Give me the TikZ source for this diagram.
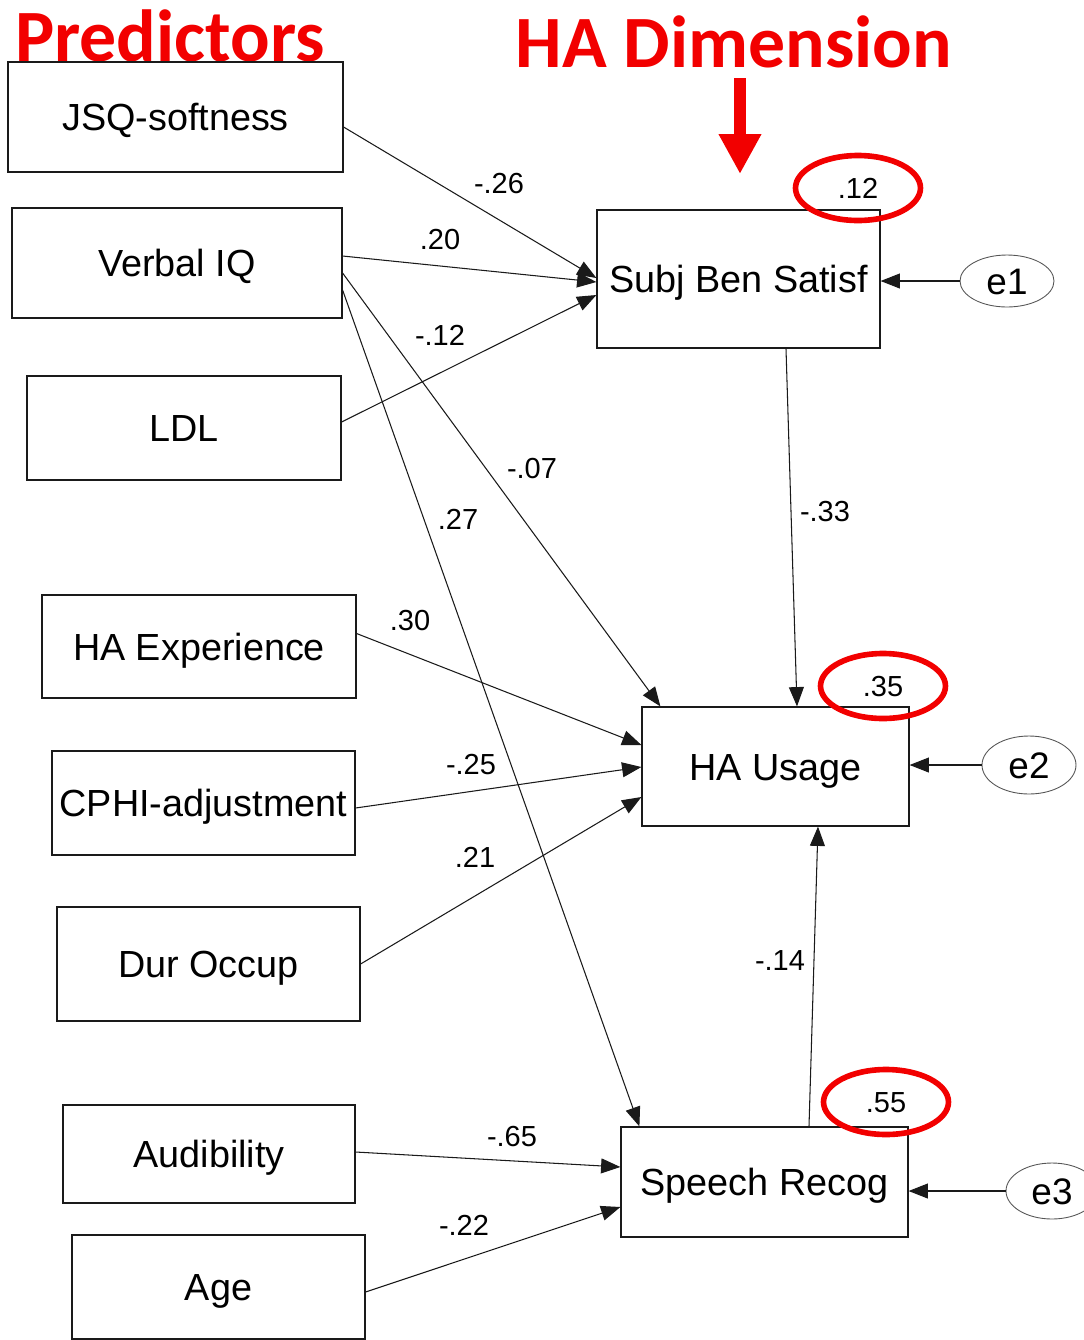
\documentclass[tikz,border=0pt]{standalone}
\usepackage{fontspec}
\setmainfont{Liberation Sans}
\newfontfamily\calfont{Carlito}
\usetikzlibrary{shapes.geometric,arrows.meta,calc}
\definecolor{harouge}{HTML}{F20000}
\definecolor{hanoir}{HTML}{1A1A1A}
\definecolor{hagris}{HTML}{555555}

\begin{document}
\begin{tikzpicture}[x=0.02cm, y=-0.02cm,
  boite/.style={draw=hanoir, line width=0.7pt, inner sep=0pt, text height=15.4pt, text depth=0pt, font=\fontsize{21.5}{24}\selectfont},
  coef/.style={inner sep=1pt, text height=11.8pt, text depth=0pt, font=\fontsize{16.5}{19}\selectfont},
  erreur/.style={draw=hagris, ellipse, line width=0.5pt, inner sep=0pt, text height=15pt, text depth=0pt, font=\fontsize{21}{24}\selectfont},
  rcarre/.style={draw=harouge, ellipse, line width=3.2pt, inner sep=0pt, minimum width=2.5cm, minimum height=1.3cm, text height=11.8pt, text depth=0pt, font=\fontsize{16.5}{19}\selectfont},
  fleche/.style={draw=hanoir, line width=0.6pt, -{Triangle[length=11pt,width=8.5pt]}},
  titre/.style={text=harouge, inner sep=0pt, font=\calfont\bfseries\fontsize{42}{46}\selectfont}]
  \useasboundingbox (0,0) rectangle (1084,1340);
  % titres en rouge
  \node[titre] (pred) at (170,36) {Predictors};
  \node[titre] (dim) at (734,42) {HA Dimension};
  \coordinate (fhaut) at (740,78);
  \coordinate (fbas) at (740,174);
  \draw[harouge, line width=7pt, -{Triangle[length=0.8cm,width=0.8cm]}] (fhaut) -- (fbas);
  % predicteurs
  \node[boite, minimum width=6.7cm, minimum height=2.2cm] (jsq) at (175.5,117) {JSQ-softness};
  \node[boite, minimum width=6.6cm, minimum height=2.2cm] (verbal) at (177,263) {Verbal IQ};
  \node[boite, minimum width=6.28cm, minimum height=2.08cm] (ldl) at (184,428) {LDL};
  \node[boite, minimum width=6.28cm, minimum height=2.06cm] (haexp) at (199,646.5) {HA Experience};
  \node[boite, minimum width=6.06cm, minimum height=2.08cm] (cphi) at (203.5,803) {CPHI-adjustment};
  \node[boite, minimum width=6.06cm, minimum height=2.28cm] (dur) at (208.5,964) {Dur Occup};
  \node[boite, minimum width=5.84cm, minimum height=1.96cm] (aud) at (209,1154) {Audibility};
  \node[boite, minimum width=5.86cm, minimum height=2.08cm] (age) at (218.5,1287) {Age};
  % dimensions
  \node[boite, minimum width=5.66cm, minimum height=2.76cm] (subj) at (738.5,279) {Subj Ben Satisf};
  \node[boite, minimum width=5.34cm, minimum height=2.38cm] (hausage) at (775.5,766.5) {HA Usage};
  \node[boite, minimum width=5.74cm, minimum height=2.2cm] (speech) at (764.5,1182) {Speech Recog};
  % erreurs
  \node[erreur, minimum width=1.88cm, minimum height=1.04cm] (e1) at (1007,281) {e1};
  \node[erreur, minimum width=1.88cm, minimum height=1.16cm] (e2) at (1029,765) {e2};
  \node[erreur, minimum width=1.84cm, minimum height=1.12cm] (e3) at (1052,1191) {e3};
  % R carre entoure
  \node[rcarre] (r1) at (858,188) {.12};
  \node[rcarre] (r2) at (883,686) {.35};
  \node[rcarre] (r3) at (886,1102) {.55};
  % chemins
  \draw[fleche] ($(jsq.east)+(0,10)$) -- ($(subj.west)+(0,-1)$);
  \draw[fleche] ($(verbal.east)+(0,-7)$) -- ($(subj.west)+(0,3)$);
  \draw[fleche] ($(ldl.east)+(0,-6)$) -- ($(subj.west)+(0,16)$);
  \draw[fleche] ($(verbal.east)+(0,10)$) -- ($(hausage.north west)+(19,0)$);
  \draw[fleche] ($(verbal.east)+(0,27)$) -- ($(speech.north west)+(19,0)$);
  \draw[fleche] ($(subj.south)+(47.5,0)$) -- ($(hausage.north)+(21.5,0)$);
  \draw[fleche] ($(haexp.east)+(0,-13)$) -- ($(hausage.west)+(0,-21.5)$);
  \draw[fleche] ($(cphi.east)+(0,5)$) -- ($(hausage.west)+(0,0.5)$);
  \draw[fleche] (dur.east) -- ($(hausage.west)+(0,30.5)$);
  \draw[fleche] ($(speech.north)+(44.5,0)$) -- ($(hausage.south)+(42.5,0)$);
  \draw[fleche] ($(aud.east)+(0,-2)$) -- ($(speech.west)+(0,-15)$);
  \draw[fleche] ($(age.east)+(0,5)$) -- ($(speech.west)+(0,25)$);
  \draw[fleche] (e1.west) -- (e1.west -| subj.east);
  \draw[fleche] (e2.west) -- (e2.west -| hausage.east);
  \draw[fleche] (e3.west) -- (e3.west -| speech.east);
  % coefficients
  \node[coef] (c1) at (499,183) {-.26};
  \node[coef] (c2) at (440,239) {.20};
  \node[coef] (c3) at (440,335) {-.12};
  \node[coef] (c4) at (532,468) {-.07};
  \node[coef] (c5) at (458,519) {.27};
  \node[coef] (c6) at (825,511) {-.33};
  \node[coef] (c7) at (410,620) {.30};
  \node[coef] (c8) at (471,764) {-.25};
  \node[coef] (c9) at (475,857) {.21};
  \node[coef] (c10) at (780,960) {-.14};
  \node[coef] (c11) at (512,1136) {-.65};
  \node[coef] (c12) at (464,1225) {-.22};
\end{tikzpicture}
\end{document}
